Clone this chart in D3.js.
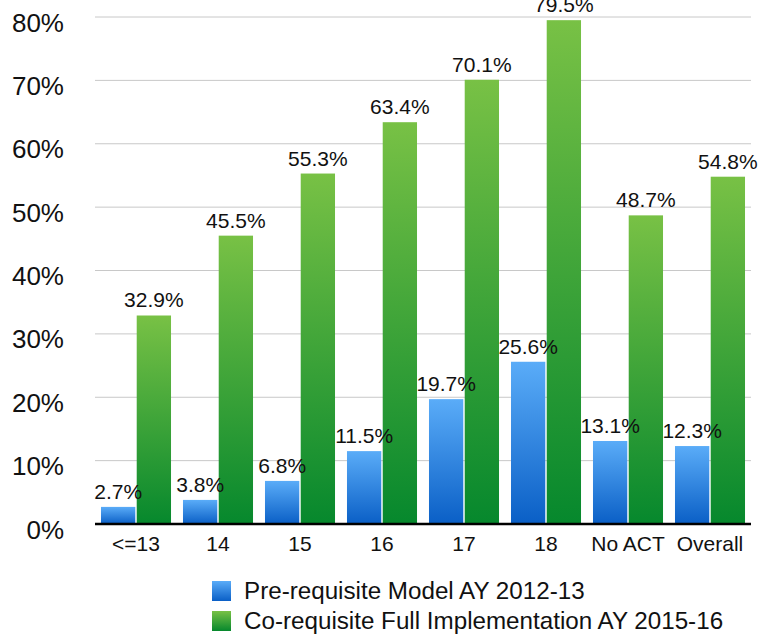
<!DOCTYPE html>
<html>
<head>
<meta charset="utf-8">
<script src="https://cdn.jsdelivr.net/npm/d3@7"></script>
<style>
  html, body { margin: 0; padding: 0; background: #fff; }
  svg { display: block; }
  text { font-family: "Liberation Sans", Arial, Helvetica, sans-serif; fill: #111; }
</style>
</head>
<body>
<svg id="chart" width="768" height="635"></svg>
<script>
const categories = ["<=13", "14", "15", "16", "17", "18", "No ACT", "Overall"];
const seriesNames = ["Pre-requisite Model AY 2012-13", "Co-requisite Full Implementation AY 2015-16"];
const preValues = [2.7, 3.8, 6.8, 11.5, 19.7, 25.6, 13.1, 12.3];
const coValues = [32.9, 45.5, 55.3, 63.4, 70.1, 79.5, 48.7, 54.8];
const yTicks = [0, 10, 20, 30, 40, 50, 60, 70, 80];

const svg = d3.select("#chart");
const plotLeft = 95, plotRight = 751, plotTop = 17, plotBottom = 524;

const defs = svg.append("defs");
const grads = [
  { id: "gBlue", c1: "#5aacf8", c2: "#0a5fc6" },
  { id: "gGreen", c1: "#78c145", c2: "#06882d" }
];
grads.forEach(g => {
  const lgr = defs.append("linearGradient").attr("id", g.id)
    .attr("x1", 0).attr("y1", 0).attr("x2", 0).attr("y2", 1);
  lgr.append("stop").attr("offset", "0%").attr("stop-color", g.c1);
  lgr.append("stop").attr("offset", "100%").attr("stop-color", g.c2);
});

const y = d3.scaleLinear().domain([0, 80]).range([plotBottom, plotTop]);
const x0 = d3.scaleBand().domain(categories).range([plotLeft, plotRight]).paddingInner(0.146).paddingOuter(0.073);
const x1 = d3.scaleBand().domain(seriesNames).range([0, x0.bandwidth()]).paddingInner(0.04);

// gridlines
svg.append("g").selectAll("line").data(yTicks.filter(t => t > 0)).join("line")
  .attr("x1", plotLeft).attr("x2", plotRight)
  .attr("y1", d => y(d)).attr("y2", d => y(d))
  .attr("stroke", "#c8c8c8").attr("stroke-width", 1);

// y axis labels
const yAxis = d3.axisLeft(y).tickValues(yTicks).tickFormat(d => d + "%").tickSize(0).tickPadding(0);
const yg = svg.append("g").attr("transform", "translate(64,0)").call(yAxis);
yg.select(".domain").remove();
yg.selectAll("text").attr("font-size", 26).attr("font-family", "'Liberation Sans', Arial, sans-serif")
  .attr("fill", "#111").attr("dy", "0.54em").attr("x", 0);

const data = categories.map((c, i) => ({ cat: c, vals: [
  { s: seriesNames[0], v: preValues[i], fill: "url(#gBlue)" },
  { s: seriesNames[1], v: coValues[i], fill: "url(#gGreen)" }
]}));

const groups = svg.append("g").selectAll("g").data(data).join("g")
  .attr("transform", d => `translate(${x0(d.cat)},0)`);

groups.selectAll("rect").data(d => d.vals).join("rect")
  .attr("x", d => x1(d.s)).attr("width", x1.bandwidth())
  .attr("y", d => y(d.v)).attr("height", d => y(0) - y(d.v))
  .attr("fill", d => d.fill);

groups.selectAll("text.val").data(d => d.vals).join("text")
  .attr("class", "val")
  .attr("x", d => x1(d.s) + x1.bandwidth() / 2)
  .attr("y", d => y(d.v) - 8)
  .attr("text-anchor", "middle")
  .attr("font-size", 21)
  .text(d => d.v.toFixed(1) + "%");

// baseline
svg.append("line").attr("x1", plotLeft).attr("x2", plotRight)
  .attr("y1", y(0)).attr("y2", y(0)).attr("stroke", "#000").attr("stroke-width", 2.5);

// x axis
const xAxis = d3.axisBottom(x0).tickSize(0).tickPadding(0);
const xg = svg.append("g").attr("transform", `translate(0,${y(0)})`).call(xAxis);
xg.select(".domain").remove();
xg.selectAll("text").attr("font-size", 21).attr("font-family", "'Liberation Sans', Arial, sans-serif")
  .attr("fill", "#111").attr("dy", null).attr("y", 27);

// legend
const legend = svg.append("g").attr("transform", "translate(212,581)");
const lg = legend.selectAll("g").data(seriesNames).join("g")
  .attr("transform", (d, i) => `translate(0,${i * 30})`);
lg.append("rect").attr("width", 19).attr("height", 20)
  .attr("fill", (d, i) => i === 0 ? "url(#gBlue)" : "url(#gGreen)");
lg.append("text").attr("x", 32).attr("y", 18).attr("font-size", 24.2).text(d => d);
</script>
</body>
</html>
